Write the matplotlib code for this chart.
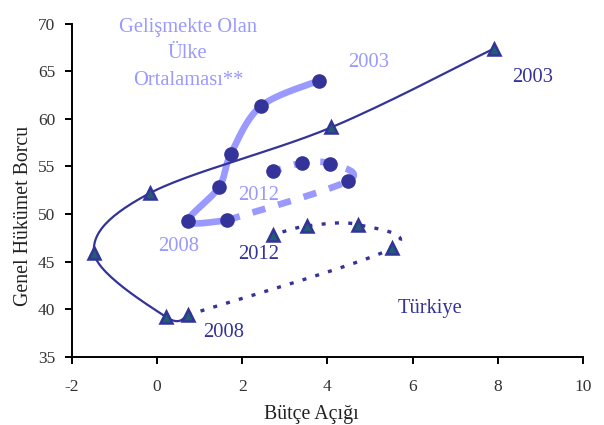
import numpy as np
import matplotlib
matplotlib.use("Agg")
import matplotlib.pyplot as plt

plt.rcParams['font.family'] = ['Liberation Serif', 'DejaVu Serif']
plt.rcParams['axes.unicode_minus'] = False

# Türkiye: 2003-2012 (budget deficit, general government debt)
tr_x = [7.9, 4.09, -0.17, -1.48, 0.21, 0.72, 5.51, 4.71, 3.52, 2.72]
tr_y = [67.35, 59.1, 52.2, 45.9, 39.2, 39.4, 46.4, 48.9, 48.75, 47.8]

# Developing country average: 2003-2012
dev_x = [3.79, 2.43, 1.73, 1.45, 0.73, 1.64, 4.49, 4.06, 3.4, 2.73]
dev_y = [64.0, 61.3, 56.3, 52.8, 49.25, 49.35, 53.5, 55.3, 55.35, 54.5]

x_ticks = [-2, 0, 2, 4, 6, 8, 10]
y_ticks = [35, 40, 45, 50, 55, 60, 65, 70]

NAVY = '#333399'
LIGHT = '#9999ff'


def smooth(xs, ys, n=30):
    # catmull-rom through the points, like excel's smoothed line
    p = np.column_stack([xs, ys]).astype(float)
    p = np.vstack([p[0], p, p[-1]])
    out = []
    t = np.linspace(0, 1, n)[:, None]
    for i in range(1, len(p) - 2):
        p0, p1, p2, p3 = p[i - 1], p[i], p[i + 1], p[i + 2]
        seg = 0.5 * ((2 * p1) + (-p0 + p2) * t + (2 * p0 - 5 * p1 + 4 * p2 - p3) * t ** 2
                     + (-p0 + 3 * p1 - 3 * p2 + p3) * t ** 3)
        out.append(seg)
    out = np.vstack(out)
    return out[:, 0], out[:, 1]


fig = plt.figure(figsize=(6.04, 4.25), dpi=100)
ax = fig.add_axes([0.1192, 0.16, 0.846, 0.7847])

# developing countries
sx, sy = smooth(dev_x[:6], dev_y[:6])
ax.plot(sx, sy, color=LIGHT, lw=4.8, solid_capstyle='round', zorder=2)
sx, sy = smooth(dev_x[5:], dev_y[5:])
ax.plot(sx, sy, color=LIGHT, lw=4.8, dashes=(2.0, 2.0), zorder=2)
ax.plot(dev_x, dev_y, 'o', color=NAVY, ms=9.5, zorder=4)

# turkey
sx, sy = smooth(tr_x[:6], tr_y[:6])
ax.plot(sx, sy, color=NAVY, lw=1.6, zorder=3)
sx, sy = smooth(tr_x[5:], tr_y[5:])
ax.plot(sx, sy, color=NAVY, lw=2.4, dashes=(1.2, 2.8), zorder=3)
ax.plot(tr_x, tr_y, '^', mfc='#1f6070', mec=NAVY, mew=1.8, ms=9, zorder=5)

ax.set_xlim(-2, 10)
ax.set_ylim(35, 70)
ax.set_xticks(x_ticks)
ax.set_yticks(y_ticks)
ax.spines['top'].set_visible(False)
ax.spines['right'].set_visible(False)
ax.spines['left'].set_linewidth(1.4)
ax.spines['bottom'].set_linewidth(1.4)
ax.tick_params(direction='out', length=5, width=1.4, labelsize=12.5, labelcolor='#333333')
ax.tick_params(axis='x', pad=11)
ax.tick_params(axis='y', pad=7)
ax.set_xlabel('Bütçe Açığı', fontsize=14.3, color='#222222')
ax.set_ylabel('Genel Hükümet Borcu', fontsize=14.3, color='#222222')
ax.xaxis.set_label_coords(0.468, -0.144)
ax.yaxis.set_label_coords(-0.076, 0.423)

fs = 14.8
ax.text(0.72, 66.8, 'Gelişmekte Olan\nÜlke\nOrtalaması**', color=LIGHT, fontsize=fs,
        ha='center', va='center', linespacing=1.55)
ax.text(4.96, 65.95, '2003', color=LIGHT, fontsize=fs, ha='center', va='center')
ax.text(2.38, 51.9, '2012', color=LIGHT, fontsize=fs, ha='center', va='center')
ax.text(0.5, 46.6, '2008', color=LIGHT, fontsize=fs, ha='center', va='center')
ax.text(8.82, 64.3, '2003', color=NAVY, fontsize=fs, ha='center', va='center')
ax.text(2.38, 45.8, '2012', color=NAVY, fontsize=fs, ha='center', va='center')
ax.text(1.55, 37.6, '2008', color=NAVY, fontsize=fs, ha='center', va='center')
ax.text(6.42, 40.1, 'Türkiye', color=NAVY, fontsize=fs, ha='center', va='center')

fig.savefig('out.png', dpi=100)
